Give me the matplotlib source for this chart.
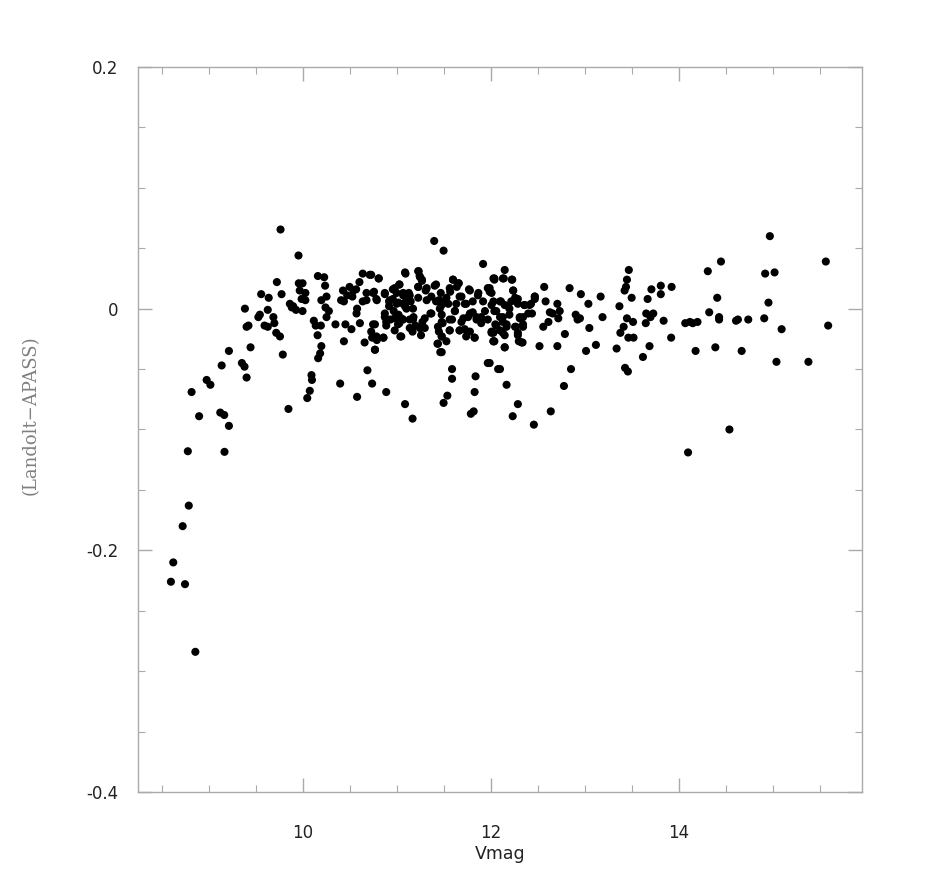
import numpy as np
import matplotlib
matplotlib.use("Agg")
from matplotlib import pyplot as plt
from matplotlib.ticker import MultipleLocator

# bright end (steep drop)
vmag_bright = [8.78, 9.17, 8.82, 8.90, 8.98, 9.02, 9.125, 9.167, 9.217, 9.14, 9.217,
               8.79, 8.725, 8.625, 8.60, 8.75, 8.86]
diff_bright = [-0.118, -0.1185, -0.069, -0.089, -0.059, -0.063, -0.086, -0.088, -0.097,
               -0.047, -0.035, -0.163, -0.180, -0.210, -0.226, -0.228, -0.284]

# 9.3 - 12.1 mag (left part of the cloud)
vmag_mid = [9.355, 9.383, 9.405, 9.447, 9.405, 9.425, 9.387, 9.53, 9.546, 9.56, 9.63,
            9.64, 9.596, 9.63, 9.69, 9.70, 9.72, 9.76, 9.727, 9.777, 9.79, 9.766, 9.85,
            9.957, 9.865, 9.90, 9.93, 9.96, 10.0, 9.97, 10.03, 9.99, 10.03, 10.0, 9.886,
            10.163, 10.23, 10.24, 10.20, 10.255, 10.244, 10.28, 10.255, 10.12, 10.14,
            10.195, 10.16, 10.20, 10.187, 10.166, 10.095, 10.10, 10.077, 10.05, 10.40,
            10.35, 10.44, 10.43, 10.41, 10.44, 10.475, 10.50, 10.54, 10.53, 10.57, 10.605,
            10.64, 10.715, 10.81, 10.58, 10.574, 10.64, 10.68, 10.68, 10.75, 10.79, 10.456,
            10.52, 10.61, 10.75, 10.73, 10.74, 10.79, 10.66, 10.77, 10.86, 10.69, 10.74,
            10.58, 10.89, 11.09, 11.17, 10.875, 10.92, 10.92, 10.96, 10.98, 11.0, 11.03,
            11.095, 11.07, 11.02, 11.07, 11.10, 11.13, 11.15, 11.23, 11.245, 11.23, 11.32,
            11.27, 11.32, 11.405, 11.40, 11.50, 10.875, 10.89, 10.935, 10.97, 11.02, 11.05,
            11.03, 10.98, 11.04, 11.14, 11.18, 11.20, 11.25, 11.275, 11.30, 11.17, 11.105,
            11.36, 11.42, 11.45, 11.47, 11.48, 11.51, 11.53, 11.57, 11.60, 11.64, 11.66,
            11.48, 11.49, 11.45, 11.48, 11.435, 11.48, 11.565, 11.59, 11.62, 11.69, 11.725,
            11.78, 11.87, 11.92, 12.04, 11.97, 12.01, 11.67, 11.725, 11.71, 11.76, 11.81,
            11.85, 11.90, 11.83, 12.01, 12.03, 12.05, 11.97, 12.08, 11.59, 11.59, 11.54,
            11.50, 11.84, 11.83, 11.82, 11.79]
diff_mid = [-0.045, -0.048, -0.057, -0.032, -0.015, -0.014, 0.000, -0.007, -0.005, 0.012,
            -0.001, 0.009, -0.014, -0.015, -0.007, -0.012, -0.020, -0.023, 0.022, 0.012,
            -0.038, 0.0655, -0.083, 0.044, 0.004, 0.002, -0.001, 0.021, 0.021, 0.015, 0.013,
            0.008, 0.007, -0.002, 0.001, 0.027, 0.026, 0.019, 0.007, 0.010, 0.001, -0.002,
            -0.007, -0.010, -0.014, -0.014, -0.022, -0.031, -0.037, -0.041, -0.055, -0.059,
            -0.068, -0.074, -0.062, -0.013, -0.027, 0.015, 0.007, 0.006, 0.011, 0.018, 0.015,
            0.010, 0.016, 0.022, 0.029, 0.028, 0.025, 0.000, -0.004, 0.006, 0.007, 0.013,
            0.013, 0.007, -0.013, -0.017, -0.012, -0.013, -0.019, -0.024, -0.026, -0.028,
            -0.034, -0.024, -0.051, -0.062, -0.073, -0.069, -0.079, -0.091, 0.012, 0.006,
            0.002, 0.008, 0.017, 0.013, 0.020, 0.029, 0.013, 0.005, 0.004, 0.006, 0.013,
            0.006, 0.031, 0.027, 0.018, 0.017, 0.023, 0.007, 0.019, 0.056, 0.048, -0.004,
            -0.011, -0.009, -0.002, -0.005, -0.008, -0.012, -0.018, -0.023, -0.009, -0.007,
            -0.014, -0.016, -0.011, -0.016, -0.019, 0.000, -0.004, 0.006, 0.007, 0.013,
            0.003, 0.006, 0.009, 0.014, 0.024, 0.018, 0.021, -0.005, -0.012, -0.019, -0.023,
            -0.029, -0.036, -0.018, -0.009, -0.002, 0.010, 0.004, 0.015, 0.013, 0.037, 0.024,
            0.017, 0.013, -0.018, -0.017, -0.008, -0.007, -0.003, -0.009, -0.007, -0.024,
            -0.020, -0.027, -0.013, -0.045, -0.050, -0.050, -0.058, -0.072, -0.078, -0.056,
            -0.069, -0.085, -0.087]

# extra stars filling the dense core 10.7 - 12.5 mag
vmag_core = [10.73, 10.81, 11.09, 11.235, 11.25, 11.27, 11.60, 11.66, 11.77, 12.03, 11.99,
             11.03, 10.96, 11.23, 11.31, 11.42, 11.565, 10.76, 10.875, 11.07, 11.14, 11.37,
             11.67, 11.865, 10.785, 10.93, 11.0, 11.23, 11.48, 11.55, 11.635, 11.74, 11.81,
             11.92, 12.01, 11.09, 11.175, 11.37, 11.46, 11.62, 11.78, 11.85, 11.94, 12.04,
             10.875, 10.98, 11.07, 11.175, 11.30, 11.48, 11.565, 11.69, 11.90, 11.97, 10.77,
             10.89, 11.015, 11.14, 11.25, 11.44, 11.565, 11.67, 11.78, 12.01, 10.786, 10.86,
             11.05, 11.26, 11.48, 11.74, 11.83, 11.44, 11.53, 12.04, 10.77, 11.465,
             12.14, 12.23, 12.24, 12.11, 12.185, 12.26, 12.29, 12.36, 12.43, 12.47, 12.13,
             12.20, 12.31, 12.40, 12.17, 12.26, 12.345, 12.13, 12.29, 12.33, 12.15]
diff_core = [0.028, 0.025, 0.030, 0.031, 0.026, 0.024, 0.024, 0.021, 0.016, 0.025, 0.017,
             0.020, 0.016, 0.018, 0.015, 0.020, 0.017, 0.014, 0.013, 0.011, 0.011, 0.010,
             0.010, 0.011, 0.008, 0.007, 0.004, 0.009, 0.006, 0.004, 0.004, 0.004, 0.006,
             0.006, 0.003, 0.002, 0.000, -0.004, 0.000, -0.002, -0.004, -0.007, -0.002,
             -0.002, -0.007, -0.008, -0.009, -0.009, -0.008, -0.011, -0.009, -0.011, -0.012,
             -0.009, -0.013, -0.014, -0.013, -0.016, -0.016, -0.015, -0.018, -0.018, -0.019,
             -0.019, -0.023, -0.024, -0.023, -0.022, -0.023, -0.023, -0.024, -0.029, -0.027,
             -0.027, -0.034, -0.036,
             0.025, 0.024, 0.015, 0.006, 0.002, 0.009, 0.004, 0.003, 0.004, 0.010, -0.007,
             -0.005, -0.007, -0.004, -0.013, -0.015, -0.013, -0.020, -0.022, -0.028, -0.032]

# faint end 12 - 15.6 mag
vmag_faint = [11.99, 12.03, 12.04, 12.06, 12.13, 12.15, 12.225, 12.24, 12.10, 12.15, 12.20,
              12.22, 12.29, 12.10, 12.13, 12.17, 12.06, 12.03, 12.03, 12.10, 12.15, 12.15,
              12.27, 12.31, 12.345, 12.29, 12.30, 12.34, 12.345, 12.36, 12.415, 12.44,
              12.47, 12.47, 11.99, 12.10, 12.17, 12.29, 12.235, 12.46, 12.64, 12.78, 12.855,
              12.57, 12.585, 12.63, 12.66, 12.71, 12.735, 12.72, 12.615, 12.56, 12.79, 12.52,
              12.71, 12.84, 12.96, 13.04, 12.905, 12.925, 12.95, 13.05, 13.015, 13.12, 13.17,
              13.19, 13.34, 13.37, 13.415, 13.38, 13.425, 13.44, 13.45, 13.47, 13.50, 13.45,
              13.515, 13.465, 13.52, 13.43, 13.46, 13.62, 13.65, 13.67, 13.655, 13.73, 13.70,
              13.69, 13.71, 13.81, 13.81, 13.925, 13.84, 13.92, 14.07, 14.12, 14.15, 14.20,
              14.18, 14.10, 14.31, 14.325, 14.41, 14.45, 14.43, 14.43, 14.39, 14.54, 14.61,
              14.63, 14.67, 14.74, 14.91, 14.92, 15.02, 14.97, 14.955, 15.095, 15.04, 15.38,
              15.565, 15.59]
diff_faint = [0.014, 0.006, 0.025, -0.002, 0.025, 0.032, 0.024, 0.015, 0.006, 0.003, 0.000,
              0.006, 0.008, -0.007, -0.011, -0.015, -0.014, -0.020, -0.027, -0.018, -0.022,
              -0.032, -0.015, -0.008, -0.007, -0.020, -0.027, -0.028, -0.015, 0.003, 0.003,
              -0.004, 0.008, 0.010, -0.045, -0.050, -0.063, -0.079, -0.089, -0.096, -0.085,
              -0.064, -0.050, 0.018, 0.006, -0.003, -0.004, 0.004, -0.002, -0.008, -0.011,
              -0.015, -0.021, -0.031, -0.031, 0.017, 0.012, 0.004, -0.005, -0.009, -0.008,
              -0.016, -0.035, -0.030, 0.010, -0.007, -0.033, 0.002, -0.015, -0.020, 0.015,
              0.018, 0.024, 0.032, 0.009, -0.008, -0.011, -0.024, -0.024, -0.049, -0.052,
              -0.040, -0.012, 0.008, -0.004, -0.004, -0.007, -0.031, 0.016, 0.012, 0.019,
              0.018, -0.010, -0.024, -0.012, -0.011, -0.012, -0.011, -0.035, -0.119, 0.031,
              -0.003, 0.009, 0.039, -0.007, -0.009, -0.032, -0.100, -0.010, -0.009, -0.035,
              -0.009, -0.008, 0.029, 0.030, 0.060, 0.005, -0.017, -0.044, -0.044, 0.039,
              -0.014]


def main():
    vmag = np.concatenate([vmag_bright, vmag_mid, vmag_core, vmag_faint])
    diff = np.concatenate([diff_bright, diff_mid, diff_core, diff_faint])

    fig = plt.figure(figsize=(9.28, 8.86), dpi=100)
    ax = fig.add_axes([0.1487, 0.1061, 0.7802, 0.8183])

    ax.scatter(vmag, diff, s=34, c="black", edgecolors="none", zorder=3)

    ax.set_xlim(8.25, 15.95)
    ax.set_ylim(-0.4, 0.2)

    ax.xaxis.set_major_locator(MultipleLocator(2))
    ax.xaxis.set_minor_locator(MultipleLocator(0.5))
    ax.yaxis.set_major_locator(MultipleLocator(0.2))
    ax.yaxis.set_minor_locator(MultipleLocator(0.05))
    # "0" instead of "0.0", like the original
    ax.yaxis.set_major_formatter(plt.FuncFormatter(lambda v, p: "0" if abs(v) < 1e-9 else f"{v:.1f}"))

    for s in ax.spines.values():
        s.set_color("#aaaaaa")
        s.set_linewidth(1.0)
    ax.tick_params(which="both", direction="in", top=True, right=True,
                   color="#aaaaaa", labelcolor="#222222", labelsize=12)
    ax.tick_params(which="major", length=10, width=1.0)
    ax.tick_params(which="minor", length=5, width=0.8)
    ax.tick_params(axis="x", which="major", pad=23)
    ax.tick_params(axis="y", which="major", pad=14)

    ax.set_xlabel("Vmag", fontsize=12.5, color="#222222", labelpad=2)
    ax.set_ylabel("(Landolt\u2212APASS)", fontsize=13, color="#808080",
                  family="DejaVu Serif")
    ax.yaxis.set_label_coords(-0.136, 0.52)

    fig.savefig("out.png", dpi=100)


if __name__ == "__main__":
    main()
